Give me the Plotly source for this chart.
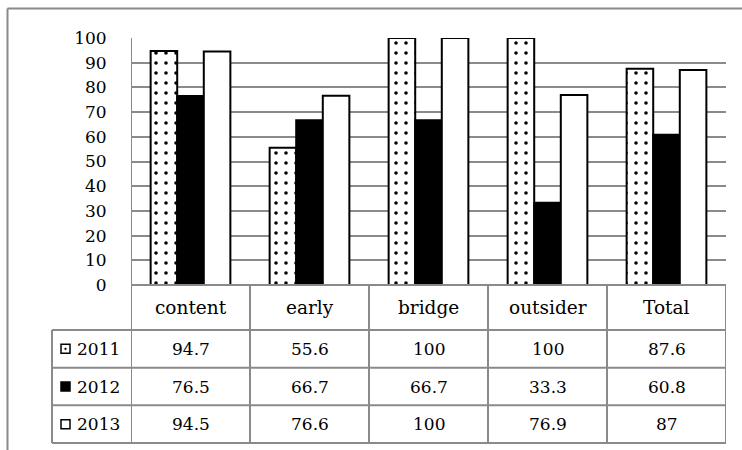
import plotly.graph_objects as go

# Share of respondents (%) by group and survey year
categories = ["content", "early", "bridge", "outsider", "Total"]
years = ["2011", "2012", "2013"]
values_2011 = [94.7, 55.6, 100, 100, 87.6]
values_2012 = [76.5, 66.7, 66.7, 33.3, 60.8]
values_2013 = [94.5, 76.6, 100, 76.9, 87]
y_ticks = [0, 10, 20, 30, 40, 50, 60, 70, 80, 90, 100]

series = [values_2011, values_2012, values_2013]

W, H = 742, 450
FONT = "DejaVu Serif"
GRID = "#8a8a8a"
NUM_SIZE = 17
WORD_SIZE = 18.5


def px(x):
    return x / W


def py(y):
    return 1 - y / H


# plot area in pixels
PLOT_L, PLOT_R, PLOT_T, PLOT_B = 131, 726, 38, 285
# table rows (header + one per year)
ROW_EDGES = [285, 330, 367.7, 405.3, 443]
LEG_L = 52

fig = go.Figure()

bar_styles = [
    dict(color="white", pattern=dict(shape=".", fgcolor="black", bgcolor="white",
                                     size=10, solidity=0.1, fillmode="replace")),
    dict(color="black"),
    dict(color="white"),
]
for name, vals, st in zip(years, series, bar_styles):
    fig.add_trace(go.Bar(
        x=categories, y=vals, name=name,
        marker=dict(line=dict(color="black", width=2), **st),
        showlegend=False, hoverinfo="skip",
    ))

shapes = []
annotations = []

# outer frame (top and left)
shapes.append(dict(type="line", xref="paper", yref="paper",
                   x0=px(7.5), x1=1, y0=py(8.5), y1=py(8.5),
                   line=dict(color=GRID, width=2)))
shapes.append(dict(type="line", xref="paper", yref="paper",
                   x0=px(7.5), x1=px(7.5), y0=py(8.5), y1=0,
                   line=dict(color=GRID, width=2)))

# table: horizontal rules
shapes.append(dict(type="line", xref="paper", yref="paper",
                   x0=px(PLOT_L), x1=px(PLOT_R), y0=py(ROW_EDGES[0]), y1=py(ROW_EDGES[0]),
                   line=dict(color=GRID, width=2)))
for ye in ROW_EDGES[1:]:
    shapes.append(dict(type="line", xref="paper", yref="paper",
                       x0=px(LEG_L), x1=px(PLOT_R), y0=py(ye), y1=py(ye),
                       line=dict(color=GRID, width=2)))

# table: vertical rules on category boundaries
for i in range(len(categories) + 1):
    shapes.append(dict(type="line", xref="x", yref="paper",
                       x0=i - 0.5, x1=i - 0.5,
                       y0=py(ROW_EDGES[0] if i > 0 else PLOT_T), y1=py(ROW_EDGES[-1]),
                       line=dict(color=GRID, width=2)))
# legend column left edge
shapes.append(dict(type="line", xref="paper", yref="paper",
                   x0=px(LEG_L), x1=px(LEG_L), y0=py(ROW_EDGES[1]), y1=py(ROW_EDGES[-1]),
                   line=dict(color=GRID, width=2)))

# header row: category names
hdr_y = (ROW_EDGES[0] + ROW_EDGES[1]) / 2
for c in categories:
    annotations.append(dict(x=c, xref="x", y=py(hdr_y), yref="paper",
                            xanchor="center", yanchor="middle",
                            text=c, showarrow=False,
                            font=dict(family=FONT, size=WORD_SIZE, color="black")))

# value rows with legend keys
for r, (name, vals) in enumerate(zip(years, series)):
    yc = (ROW_EDGES[r + 1] + ROW_EDGES[r + 2]) / 2
    for c, v in zip(categories, vals):
        annotations.append(dict(x=c, xref="x", y=py(yc), yref="paper",
                                xanchor="center", yanchor="middle",
                                text=f"{v:g}", showarrow=False,
                                font=dict(family=FONT, size=NUM_SIZE, color="black")))
    annotations.append(dict(x=px(75), xref="paper", y=py(yc), yref="paper",
                            xanchor="left", yanchor="middle",
                            text=name, showarrow=False,
                            font=dict(family=FONT, size=NUM_SIZE, color="black")))
    # key square
    k0, k1 = 61, 70
    shapes.append(dict(type="rect", xref="paper", yref="paper",
                       x0=px(k0), x1=px(k1), y0=py(yc - 4.5), y1=py(yc + 4.5),
                       line=dict(color="black", width=1.5),
                       fillcolor="black" if r == 1 else "white"))
    if r == 0:
        shapes.append(dict(type="circle", xref="paper", yref="paper",
                           x0=px(64.6), x1=px(66.4), y0=py(yc - 0.9), y1=py(yc + 0.9),
                           line=dict(color="black", width=0.5), fillcolor="black"))

fig.update_layout(
    width=W, height=H,
    margin=dict(l=0, r=0, t=0, b=0, pad=0, autoexpand=False),
    paper_bgcolor="white", plot_bgcolor="white",
    barmode="group", bargap=0.33, bargroupgap=0,
    font=dict(family=FONT, size=NUM_SIZE, color="black"),
    shapes=shapes, annotations=annotations,
    xaxis=dict(domain=[px(PLOT_L), px(PLOT_R)], range=[-0.5, 4.5],
               showticklabels=False, showgrid=False, zeroline=False,
               showline=False, fixedrange=True, automargin=False),
    yaxis=dict(domain=[py(PLOT_B), py(PLOT_T)], range=[0, 100],
               tickvals=y_ticks, showgrid=True, gridcolor=GRID, gridwidth=2,
               zeroline=False, showline=False, automargin=False,
               ticks="outside", ticklen=20, tickcolor="rgba(0,0,0,0)",
               tickfont=dict(family=FONT, size=NUM_SIZE, color="black"),
               fixedrange=True),
)

fig.write_html("out.html")
